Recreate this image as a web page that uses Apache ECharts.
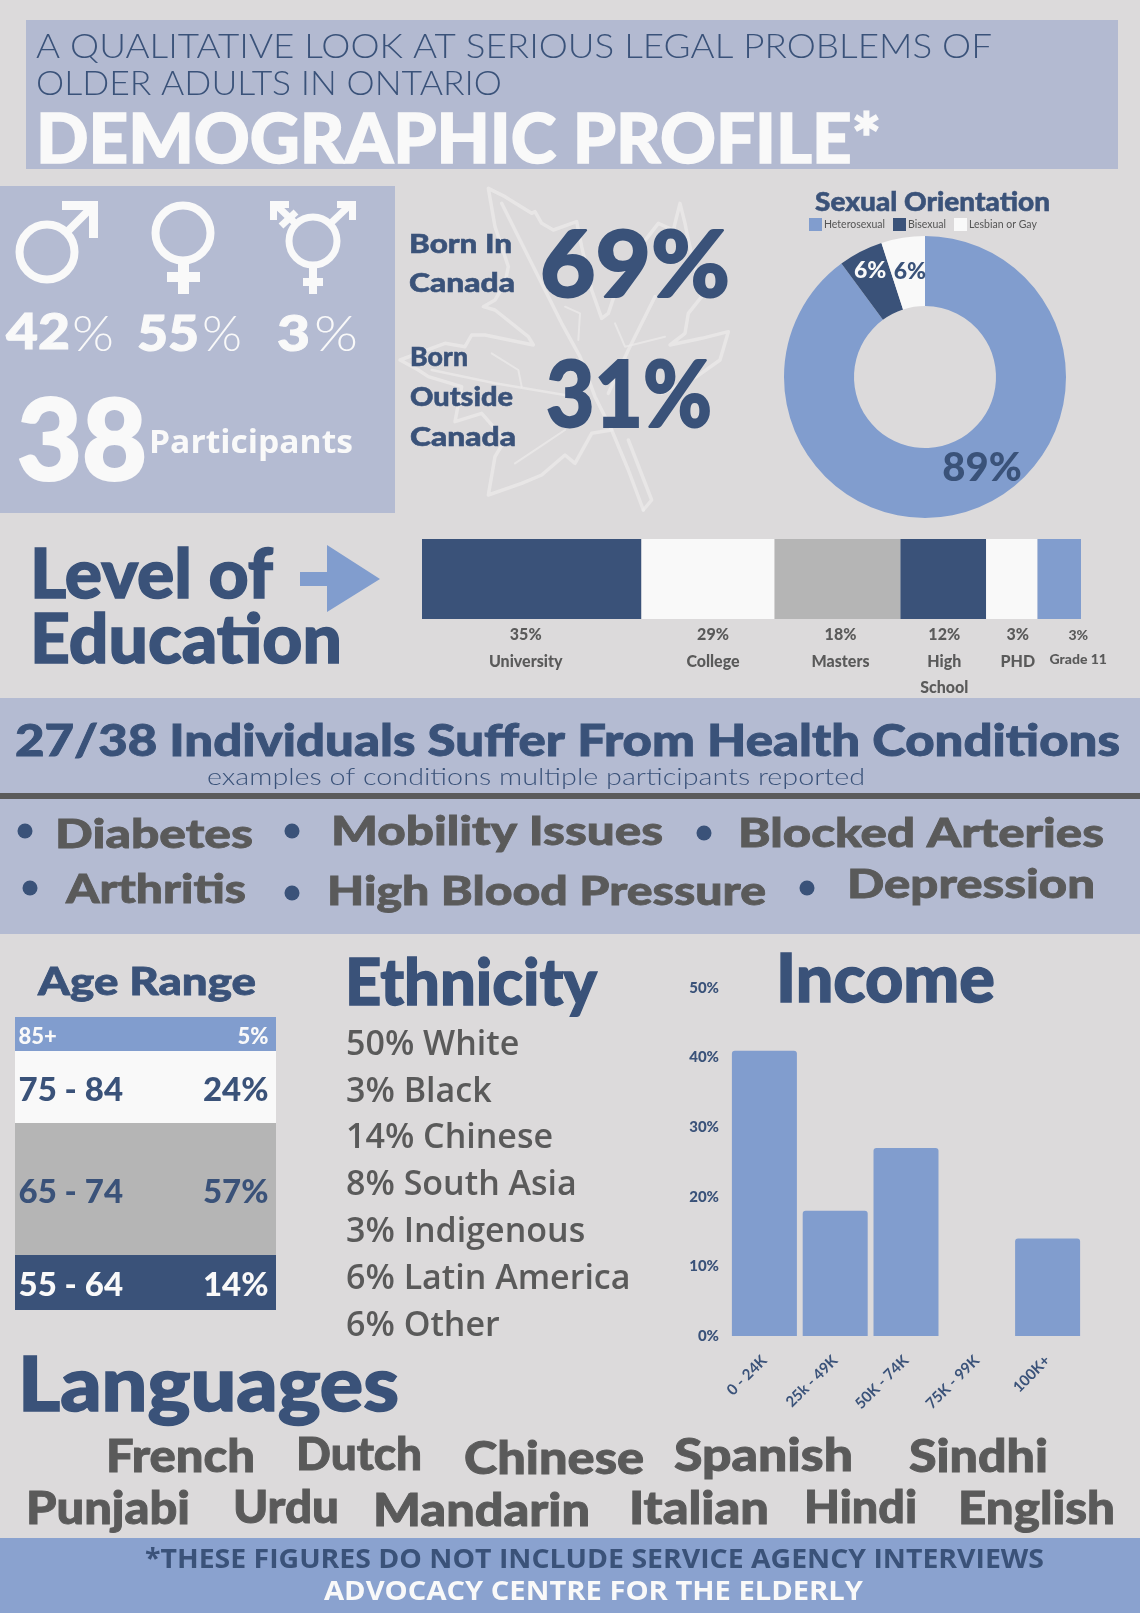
<!DOCTYPE html>
<html>
<head>
<meta charset="utf-8">
<title>Demographic Profile</title>
<script src="https://cdn.jsdelivr.net/npm/echarts@6/dist/echarts.min.js"></script>
<style>
html,body{margin:0;padding:0;background:#dcdadb;}
#main{width:1140px;height:1613px;}
</style>
</head>
<body>
<div id="main"></div>
<script>
// ---- data ----
var orientNames = ['Heterosexual', 'Bisexual', 'Lesbian or Gay'];
var orientValues = [89.9, 5.1, 5];   // slice size as drawn
var orientLabels = ['89%', '6%', '6%'];

var eduNames = ['University', 'College', 'Masters', 'High\nSchool', 'PHD', 'Grade 11'];
var eduPct = ['35%', '29%', '18%', '12%', '3%', '3%'];
var eduDrawn = [33.3, 20.2, 19.1, 13, 7.8, 6.6];   // segment width as drawn, not the printed %

var ageNames = ['85+', '75 - 84', '65 - 74', '55 - 64'];
var agePct = ['5%', '24%', '57%', '14%'];
var ageDrawn = [11.6, 24.6, 45, 18.8];   // band height as drawn

var incomeCats = ['0 - 24K', '25k - 49K', '50K - 74K', '75K - 99K', '100K+'];
var incomeValues = [41, 18, 27, 0, 14];

var ethnicity = ['50% White', '3% Black', '14% Chinese', '8% South Asia', '3% Indigenous', '6% Latin America', '6% Other'];

var NAVY = '#3a5279', BLUE = '#819dce', GREY = '#b5b5b5', WHITE = '#f9f9f9', TEXT = '#5a5a5a', PANEL = '#b4bbd2';
var HEAVY = 'Lato', BODY = '"Open Sans"';

var measure = document.createElement('canvas').getContext('2d');

// text helper: x = left edge, y = vertical middle, w = target width (squeezes text to it)
function txt(str, x, y, size, color, w, weight, family) {
	weight = weight || 900;
	family = family || HEAVY;
	var sx = 1;
	if (w) {
		measure.font = weight + ' ' + size + 'px ' + family;
		sx = w / measure.measureText(str).width;
	}
	var style = {text: str, fill: color, fontSize: size, fontWeight: weight, fontFamily: family,
		textAlign: 'left', textVerticalAlign: 'middle'};
	// the original display face is heavier than Lato Black
	if (weight >= 900) {
		style.stroke = color;
		style.lineWidth = size * 0.02;
	}
	return {
		type: 'text', silent: true, x: x, scaleX: sx,
		y: y + size * (family == HEAVY ? 0.04 : 0.07),
		style: style
	};
}
function box(x, y, w, h, color) {
	return {type: 'rect', silent: true, shape: {x: x, y: y, width: w, height: h}, style: {fill: color}};
}
function line(x1, y1, x2, y2, width, color) {
	return {type: 'line', silent: true, shape: {x1: x1, y1: y1, x2: x2, y2: y2},
		style: {stroke: color, lineWidth: width}};
}
function ring(cx, cy, r, width, color) {
	return {type: 'circle', silent: true, shape: {cx: cx, cy: cy, r: r},
		style: {fill: 'none', stroke: color, lineWidth: width}};
}

var g = [];
// bands
g.push(box(26, 20, 1092, 149, '#b3bad1'));
g.push(box(0, 186, 395, 327, PANEL));
g.push(box(0, 698, 1140, 95, PANEL));
g.push(box(0, 793, 1140, 6, '#5b5b5b'));
g.push(box(0, 799, 1140, 135, PANEL));
g.push(box(0, 1538, 1140, 75, '#8aa2cf'));

// header
g.push(txt('A QUALITATIVE LOOK AT SERIOUS LEGAL PROBLEMS OF', 36, 46, 34, NAVY, 956, 300));
g.push(txt('OLDER ADULTS IN ONTARIO', 36, 83, 34, NAVY, 466, 300));
g.push(txt('DEMOGRAPHIC PROFILE*', 36, 138, 68, WHITE, 845));

// gender icons
g.push(ring(47, 252, 27.5, 8, WHITE));
g.push(line(67, 232, 93, 206, 8, WHITE));
g.push(box(62, 201, 36, 9, WHITE));
g.push(box(89, 201, 9, 37, WHITE));
g.push(ring(183, 233, 27.5, 8, WHITE));
g.push(box(178, 261, 11, 33, WHITE));
g.push(box(167, 272, 33, 10, WHITE));
g.push(ring(313, 241, 24, 7, WHITE));
g.push(box(309, 266, 8, 28, WHITE));
g.push(box(303, 278, 20, 8, WHITE));
g.push(line(332, 222, 350, 205, 7, WHITE));
g.push(box(337, 201, 19, 7, WHITE));
g.push(box(349, 201, 7, 19, WHITE));
g.push(line(294, 222, 276, 205, 7, WHITE));
g.push(box(270, 201, 19, 7, WHITE));
g.push(box(270, 201, 7, 19, WHITE));
g.push(line(281, 226, 296, 212, 7, WHITE));

g.push(txt('42', 6, 331, 50, WHITE, 64));
g.push(txt('%', 72, 333, 50, WHITE, 42, 300));
g.push(txt('55', 137, 333, 50, WHITE, 62));
g.push(txt('%', 202, 333, 50, WHITE, 40, 300));
g.push(txt('3', 277, 333, 50, WHITE, 33));
g.push(txt('%', 314, 333, 50, WHITE, 44, 300));
g.push(txt('38', 17, 439, 112, WHITE, 130));
g.push(txt('Participants', 149, 441, 33, WHITE, 204, 700, BODY));

// maple leaf (coords relative to a 3x crop at 395,180)
function leaf(pts, width) {
	var out = [];
	for (var i = 0; i < pts.length; i += 2) out.push([395 + pts[i] / 3, 180 + pts[i + 1] / 3]);
	return {type: 'polyline', silent: true, shape: {points: out},
		style: {fill: 'none', stroke: '#ecebeb', lineWidth: width || 3.5, opacity: 0.7, lineJoin: 'round', lineCap: 'round'}};
}
g.push(leaf([745,990, 700,870, 650,750, 590,760, 540,850, 510,825, 440,885, 380,910, 280,945, 300,830, 330,780, 260,700, 180,725, 200,620,
	100,590, 70,570, 15,540, 150,490, 210,500, 230,465, 270,465, 415,495, 400,470, 300,390, 265,380, 300,360, 330,310, 340,260, 300,140, 280,25,
	330,50, 410,100, 420,95, 440,130, 475,150, 545,125, 560,200, 590,330, 620,415, 640,400, 660,340, 720,220, 790,130, 835,150, 855,70, 870,130,
	880,180, 920,350, 880,400, 870,460, 825,495, 920,475, 1000,455, 975,540, 905,590, 860,610, 800,640]));
g.push(leaf([745,990, 770,960, 700,780]));
g.push(leaf([320,70, 400,230, 500,430, 555,530, 600,650, 650,750]));
g.push(leaf([780,350, 700,510, 640,640]));
g.push(leaf([110,570, 300,610, 540,650], 2.5));
g.push(leaf([510,380, 555,400, 550,480], 2));
g.push(leaf([660,430, 690,500, 810,470], 2));
g.push(leaf([360,850, 450,790, 510,750], 2));
g.push(leaf([290,520, 370,570, 380,620], 2));

g.push(txt('Born In', 409, 243, 27, NAVY, 103));
g.push(txt('Canada', 409, 282, 27, NAVY, 106));
g.push(txt('69%', 540, 264, 92, NAVY, 190));
g.push(txt('Born', 410, 356, 27, NAVY, 58));
g.push(txt('Outside', 410, 396, 27, NAVY, 103));
g.push(txt('Canada', 410, 436, 27, NAVY, 106));
g.push(txt('31%', 546, 394, 92, NAVY, 166));
g.push(txt('Sexual Orientation', 815, 202, 26, NAVY, 235));

// education heading and arrow
g.push(txt('Level of', 30, 573, 68, NAVY, 243));
g.push(txt('Education', 30, 638, 68, NAVY, 312));
g.push({type: 'polygon', silent: true, style: {fill: BLUE},
	shape: {points: [[300, 572], [327, 572], [327, 545], [380, 579], [327, 612], [327, 586], [300, 586]]}});

// health conditions
g.push(txt('27/38 Individuals Suffer From Health Conditions', 15, 740, 44, NAVY, 1105));
g.push(txt('examples of conditions multiple participants reported', 207, 776, 24, NAVY, 658, 300));
[[25, 831], [292, 831], [704, 833], [30, 888], [292, 893], [807, 888]].forEach(function (p) {
	g.push({type: 'circle', silent: true, shape: {cx: p[0], cy: p[1], r: 7.5}, style: {fill: NAVY}});
});
g.push(txt('Diabetes', 55, 833, 40, TEXT, 198));
g.push(txt('Mobility Issues', 331, 830, 40, TEXT, 332));
g.push(txt('Blocked Arteries', 738, 832, 40, TEXT, 366));
g.push(txt('Arthritis', 66, 888, 40, TEXT, 180));
g.push(txt('High Blood Pressure', 327, 890, 40, TEXT, 439));
g.push(txt('Depression', 847, 883, 40, TEXT, 248));

// age, ethnicity, income headings
g.push(txt('Age Range', 38, 981, 38, NAVY, 218));
g.push(txt('Ethnicity', 345, 982, 64, NAVY, 252));
g.push(txt('Income', 776, 978, 66, NAVY, 219));
var ethY = [1043, 1090, 1136, 1183, 1230, 1277, 1324];
ethnicity.forEach(function (s, i) {
	g.push(txt(s, 346, ethY[i], 34, TEXT, null, 600, BODY));
});

// languages
g.push(txt('Languages', 18, 1383, 76, NAVY, 381));
[['French', 106, 1455, 149], ['Dutch', 296, 1453, 126], ['Chinese', 464, 1457, 180], ['Spanish', 674, 1454, 179], ['Sindhi', 909, 1455, 139],
 ['Punjabi', 26, 1507, 164], ['Urdu', 233, 1506, 106], ['Mandarin', 373, 1509, 217], ['Italian', 629, 1507, 140], ['Hindi', 804, 1506, 113], ['English', 958, 1507, 157]
].forEach(function (l) {
	g.push(txt(l[0], l[1], l[2], 46, TEXT, l[3]));
});

// footer
g.push(txt('*THESE FIGURES DO NOT INCLUDE SERVICE AGENCY INTERVIEWS', 145, 1559, 26, NAVY, 899, 700, BODY));
g.push(txt('ADVOCACY CENTRE FOR THE ELDERLY', 324, 1591, 26, WHITE, 539, 700, BODY));

// ---- series ----
var series = [];

var orientColors = [BLUE, NAVY, WHITE];
var orientLabelStyle = [
	{color: NAVY, fontSize: 40, offset: [23, -12]},
	{color: WHITE, fontSize: 23, offset: [-5, -9]},
	{color: NAVY, fontSize: 23, offset: [2, 2]}
];
series.push({
	type: 'pie', center: [925, 377], radius: [71, 141], startAngle: 90, silent: true,
	label: {position: 'inside', fontFamily: HEAVY, fontWeight: 900, formatter: function (p) { return orientLabels[p.dataIndex]; }},
	labelLine: {show: false},
	data: orientNames.map(function (n, i) {
		return {name: n, value: orientValues[i], itemStyle: {color: orientColors[i]}, label: orientLabelStyle[i]};
	})
});

var eduColors = [NAVY, WHITE, GREY, NAVY, WHITE, BLUE];
var eduOffset = [[-6, 0], [5, 0], [3, 0], [1, 0], [6, 0], [19, 1]];
eduNames.forEach(function (n, i) {
	series.push({
		type: 'bar', name: n, stack: 'edu', xAxisIndex: 0, yAxisIndex: 0, barWidth: '100%', silent: true,
		itemStyle: {color: eduColors[i]},
		label: {
			show: true, position: 'bottom', distance: 3, offset: eduOffset[i],
			formatter: eduPct[i] + '\n' + n, color: TEXT, fontFamily: HEAVY, fontWeight: 900,
			fontSize: i == 5 ? 14 : 16, lineHeight: i == 5 ? 24 : 26.5, align: 'center'
		},
		data: [eduDrawn[i]]
	});
});

var ageColors = [BLUE, WHITE, GREY, NAVY];
var ageInk = [WHITE, NAVY, NAVY, WHITE];
var ageSize = [22, 33, 33, 33];
ageNames.forEach(function (n, i) {
	series.push({
		type: 'bar', name: n, stack: 'age', xAxisIndex: 1, yAxisIndex: 1, barWidth: '100%', silent: true,
		itemStyle: {color: ageColors[i]},
		label: {
			show: true, position: 'inside', offset: [-2, 3],
			formatter: '{a|' + n + '}{b|' + agePct[i] + '}',
			rich: {
				a: {width: 190, align: 'left', color: ageInk[i], fontSize: ageSize[i], fontWeight: 900, fontFamily: HEAVY},
				b: {width: 60, align: 'right', color: ageInk[i], fontSize: ageSize[i], fontWeight: 900, fontFamily: HEAVY}
			}
		},
		data: [ageDrawn[i]]
	});
});

series.push({
	type: 'bar', name: 'Income', xAxisIndex: 2, yAxisIndex: 2, barWidth: 65, silent: true,
	itemStyle: {color: BLUE, borderRadius: [3, 3, 0, 0]},
	data: incomeValues
});

var option = {
	backgroundColor: '#dcdadb',
	animation: false,
	graphic: g,
	legend: {
		left: 804, top: 213, itemWidth: 13, itemHeight: 13, itemGap: 8, icon: 'rect',
		data: orientNames, selectedMode: false,
		textStyle: {fontSize: 10.5, color: '#555', fontFamily: HEAVY, padding: [0, 0, 0, -3]}
	},
	grid: [
		{left: 422, top: 539, width: 659, height: 80},
		{left: 15, top: 1017, width: 261, height: 293},
		{left: 729, top: 988, width: 354, height: 348}
	],
	xAxis: [
		{type: 'value', gridIndex: 0, min: 0, max: 100, show: false},
		{type: 'category', gridIndex: 1, data: ['Age'], show: false},
		{
			type: 'category', gridIndex: 2, data: incomeCats,
			axisLine: {show: false}, axisTick: {show: false},
			axisLabel: {interval: 0, rotate: 45, color: NAVY, fontSize: 15, fontWeight: 700, fontFamily: HEAVY, margin: 22}
		}
	],
	yAxis: [
		{type: 'category', gridIndex: 0, data: ['Education'], show: false},
		{type: 'value', gridIndex: 1, min: 0, max: 100, inverse: true, show: false},
		{
			type: 'value', gridIndex: 2, min: 0, max: 50, interval: 10,
			axisLine: {show: false}, axisTick: {show: false}, splitLine: {show: false},
			axisLabel: {formatter: '{value}%', color: NAVY, fontSize: 15, fontWeight: 900, fontFamily: HEAVY, margin: 10}
		}
	],
	series: series
};

var chart = echarts.init(document.getElementById('main'));
chart.setOption(option);
</script>
</body>
</html>
